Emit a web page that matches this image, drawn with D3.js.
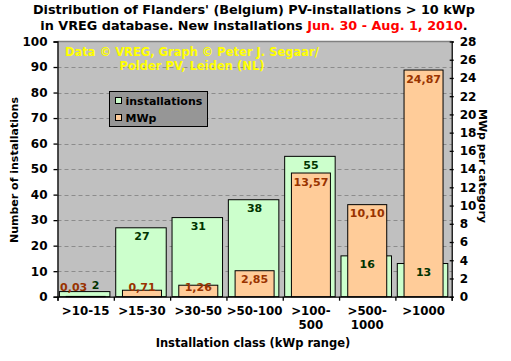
<!DOCTYPE html>
<html><head><meta charset="utf-8">
<script src="https://cdn.jsdelivr.net/npm/d3@7"></script>
<style>
html,body{margin:0;padding:0;background:#fff;}
svg{display:block;font-family:"DejaVu Sans",Verdana,sans-serif;font-weight:bold;}
</style></head>
<body>
<svg id="chart" width="511" height="361"></svg>
<script>
const categories = [">10-15", ">15-30", ">30-50", ">50-100", ">100-500", ">500-1000", ">1000"];
const categoryLabels = [[">10-15"], [">15-30"], [">30-50"], [">50-100"], [">100-", "500"], [">500-", "1000"], [">1000"]];
const installations = [2, 27, 31, 38, 55, 16, 13];
const mwp = [0.03, 0.71, 1.26, 2.85, 13.57, 10.10, 24.87];
const leftTicks = [0, 10, 20, 30, 40, 50, 60, 70, 80, 90, 100];
const rightTicks = [0, 2, 4, 6, 8, 10, 12, 14, 16, 18, 20, 22, 24, 26, 28];
const seriesNames = ["installations", "MWp"];

const svg = d3.select("#chart");
const L = 57.5, R = 451.7, T = 41.5, B = 296.7;

const x = d3.scaleBand().domain(categories).range([L, R]);
const xb = d3.scaleLinear().domain([0, categories.length]).range([L, R]);
const yL = d3.scaleLinear().domain([0, 100]).range([B, T]);
const yR = d3.scaleLinear().domain([0, 28]).range([B, T]);

const green = "#ccffcc", orange = "#ffcc99";
const fmt = v => d3.format(".2f")(v).replace(".", ",");

// plot background
svg.append("rect").attr("x", L).attr("y", T).attr("width", R - L).attr("height", B - T)
  .attr("fill", "#c0c0c0");
svg.append("line").attr("x1", L).attr("x2", R).attr("y1", T).attr("y2", T)
  .attr("stroke", "#808080").attr("stroke-width", 1.5);

// gridlines
svg.append("g").selectAll("line").data(leftTicks.filter(d => d > 0 && d < 100)).join("line")
  .attr("x1", L).attr("x2", R).attr("y1", d => Math.round(yL(d)) + 0.5).attr("y2", d => Math.round(yL(d)) + 0.5)
  .attr("stroke", "#8c8c8c").attr("stroke-dasharray", "4,3");

// annotation
const ann = svg.append("g").attr("fill", "#ffff00").attr("font-size", 11.5).attr("text-anchor", "middle");
ann.append("text").attr("x", 192).attr("y", 56).text("Data \u00a9 VREG, Graph \u00a9 Peter J. Segaar/");
ann.append("text").attr("x", 192).attr("y", 70).text("Polder PV, Leiden (NL)");

// green bars (installations, primary axis)
const gw = 50.5, ow = 39;
const cx = c => x(c) + x.bandwidth() / 2;
svg.append("g").selectAll("rect").data(categories).join("rect")
  .attr("x", (c) => cx(c) - 1 - gw / 2)
  .attr("y", (c, i) => yL(installations[i]))
  .attr("width", gw)
  .attr("height", (c, i) => B - yL(installations[i]))
  .attr("fill", green).attr("stroke", "#000").attr("stroke-width", 1);

// orange bars (MWp, secondary axis)
svg.append("g").selectAll("rect").data(categories).join("rect")
  .attr("x", (c) => cx(c) - ow / 2)
  .attr("y", (c, i) => yR(mwp[i]))
  .attr("width", ow)
  .attr("height", (c, i) => B - yR(mwp[i]))
  .attr("fill", orange).attr("stroke", "#000").attr("stroke-width", 1);

// labels
const labelY = v => Math.min(v + 9, 287);
const lab = svg.append("g").attr("font-size", 11).attr("text-anchor", "middle").attr("dominant-baseline", "central");
categories.forEach((c, i) => {
  const gy = labelY(yL(installations[i]));
  const oy = labelY(yR(mwp[i]));
  let gx = cx(c), ox = cx(c);
  const clash = Math.abs(gy - oy) < 10;
  if (clash) { gx += 10; ox -= 12; }
  lab.append("text").attr("x", gx).attr("y", gy - (clash ? 2 : 0)).attr("fill", "#003300").text(installations[i]);
  lab.append("text").attr("x", ox).attr("y", oy).attr("fill", "#993300").text(fmt(mwp[i]));
});

// axes
const axL = svg.append("g").attr("transform", `translate(${L},0)`)
  .call(d3.axisLeft(yL).tickValues(leftTicks).tickSize(4).tickPadding(6));
const axR = svg.append("g").attr("transform", `translate(${R},0)`)
  .call(d3.axisRight(yR).tickValues(rightTicks).tickSize(2).tickPadding(6));
axR.selectAll(".tick line").attr("x1", -2);
const axB = svg.append("g").attr("transform", `translate(0,${B})`)
  .call(d3.axisBottom(xb).tickValues(d3.range(categories.length + 1)).tickSize(4).tickFormat(""));
[axL, axR, axB].forEach(a => {
  a.select(".domain").attr("stroke", "#000").attr("stroke-width", 1.3);
  a.selectAll(".tick line").attr("stroke", "#000").attr("stroke-width", 1.3);
  a.selectAll("text").attr("font-size", 12).attr("font-family", "DejaVu Sans").attr("font-weight", "bold").attr("fill", "#000");
});

// x labels
const xl = svg.append("g").attr("font-size", 11.8).attr("text-anchor", "middle");
categories.forEach((c, i) => {
  const t = xl.append("text").attr("x", cx(c)).attr("y", 315);
  categoryLabels[i].forEach((line, j) => {
    t.append("tspan").attr("x", cx(c)).attr("dy", j === 0 ? 0 : 13.5).text(line);
  });
});

// legend
const lg = svg.append("g");
lg.append("rect").attr("x", 109.5).attr("y", 91.5).attr("width", 98).attr("height", 35)
  .attr("fill", "#969696").attr("stroke", "#000");
[green, orange].forEach((col, i) => {
  lg.append("rect").attr("x", 115.5).attr("y", 97.5 + i * 17).attr("width", 6).attr("height", 6)
    .attr("fill", col).attr("stroke", "#000");
  lg.append("text").attr("x", 125.5).attr("y", 104.5 + i * 17).attr("font-size", 11).text(seriesNames[i]);
});

// titles
const tt = svg.append("g").attr("font-size", 12.8).attr("text-anchor", "middle");
tt.append("text").attr("x", 254).attr("y", 14).text("Distribution of Flanders' (Belgium) PV-installations > 10 kWp");
const t2 = tt.append("text").attr("x", 254).attr("y", 30);
t2.append("tspan").text("in VREG database. New installations ");
t2.append("tspan").attr("fill", "#ff0000").text("Jun. 30 - Aug. 1, 2010");
t2.append("tspan").text(".");

svg.append("text").attr("transform", "translate(18,170) rotate(-90)").attr("text-anchor", "middle")
  .attr("font-size", 11).text("Number of installations");
svg.append("text").attr("transform", "translate(479,166) rotate(90)").attr("text-anchor", "middle")
  .attr("font-size", 11).text("MWp per category");
svg.append("text").attr("x", 253).attr("y", 347).attr("text-anchor", "middle")
  .attr("font-size", 11.5).text("Installation class (kWp range)");
</script>
</body></html>
